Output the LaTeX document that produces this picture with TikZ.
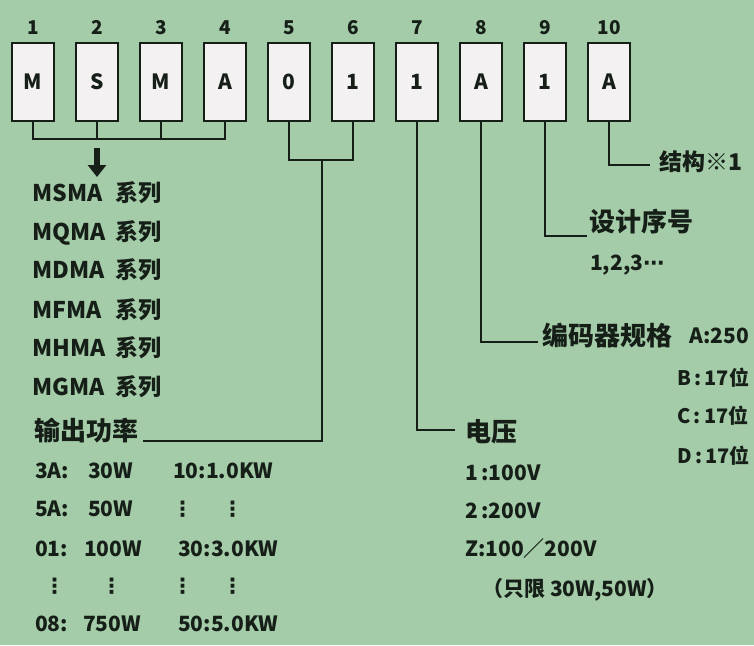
\documentclass[tikz,border=0pt]{standalone}
\usepackage{fontspec}
\setmainfont{Noto Sans CJK SC}
\newfontfamily\dejavu{DejaVu Sans}
\usetikzlibrary{arrows.meta}
\definecolor{bg}{RGB}{164,204,168}
\definecolor{boxfill}{RGB}{244,241,243}
\definecolor{ink}{RGB}{22,30,24}
\newcommand{\fs}[1]{\bfseries\fontsize{#1}{#1}\selectfont}
\begin{document}
\begin{tikzpicture}[x=1pt,y=-1pt,
  cell/.style={draw=ink, line width=2pt, fill=boxfill, minimum width=42pt, minimum height=78pt, inner sep=0pt, font=\fs{21}, text=ink},
  num/.style={font=\fs{19}, text=ink, inner sep=0pt},
  conn/.style={draw=ink, line width=2pt},
  txt/.style={inner sep=0pt, anchor=west, text=ink, font=\fs{21}, text height=0.75em, text depth=0pt},
  ser/.style={txt, font=\fs{23}},
  head/.style={txt, font=\fs{26}},
  label distance=7pt]
\useasboundingbox (0,0) rectangle (754,645);
\clip (0,0) rectangle (754,645);
\fill[bg] (0,0) rectangle (754,645);

% code boxes
\node[cell, label={[num]above:1}] (b1) at (33,82) {\raisebox{-4pt}{M}};
\node[cell, label={[num]above:2}] (b2) at (97,82) {\raisebox{-4pt}{S}};
\node[cell, label={[num]above:3}] (b3) at (161,82) {\raisebox{-4pt}{M}};
\node[cell, label={[num]above:4}] (b4) at (225,82) {\raisebox{-4pt}{A}};
\node[cell, label={[num]above:5}] (b5) at (289,82) {\raisebox{-4pt}{0}};
\node[cell, label={[num]above:6}] (b6) at (353,82) {\raisebox{-4pt}{1}};
\node[cell, label={[num]above:7}] (b7) at (417,82) {\raisebox{-4pt}{1}};
\node[cell, label={[num]above:8}] (b8) at (481,82) {\raisebox{-4pt}{A}};
\node[cell, label={[num]above:9}] (b9) at (545,82) {\raisebox{-4pt}{1}};
\node[cell, label={[num]above:10}] (b10) at (609,82) {\raisebox{-4pt}{A}};

% series
\coordinate (j) at (0,139);
\draw[conn] (b1.south) -- (b1.south |- j) -- (b4.south |- j) -- (b4.south);
\draw[conn] (b2.south) -- (b2.south |- j);
\draw[conn] (b3.south) -- (b3.south |- j);
\coordinate (a1) at (97,148);
\coordinate (a2) at (97,177);
\draw[draw=ink, line width=6pt, -{Triangle[width=18pt,length=12pt]}] (a1) -- (a2);

\node[ser] (s1) at (32,198) {\makebox[83pt][l]{MSMA}系列};
\node[ser] (s2) at (32,237) {\makebox[83pt][l]{MQMA}系列};
\node[ser] (s3) at (32,275) {\makebox[83pt][l]{MDMA}系列};
\node[ser] (s4) at (32,315) {\makebox[83pt][l]{MFMA}系列};
\node[ser] (s5) at (32,353) {\makebox[83pt][l]{MHMA}系列};
\node[ser] (s6) at (32,392) {\makebox[83pt][l]{MGMA}系列};

% output power
\coordinate (m56) at (322,160);
\coordinate (pwend) at (143,441);
\draw[conn] (b5.south) |- (m56) -| (b6.south);
\draw[conn] (m56) |- (pwend);
\node[head] (pw) at (34,437) {输出功率};
\node[txt] (p11) at (35,475) {3A:};
\node[txt] (p12) at (88,475) {30W};
\node[txt] (p13) at (173,475) {10:1.0KW};
\node[txt] (p21) at (35,513) {5A:};
\node[txt] (p22) at (88,513) {50W};
\node[txt] (p23) at (172,513) {\dejavu\bfseries ⋮};
\node[txt] (p24) at (222,513) {\dejavu\bfseries ⋮};
\node[txt] (p31) at (35,553) {01:};
\node[txt] (p32) at (84,553) {100W};
\node[txt] (p33) at (178,553) {30:3.0KW};
\node[txt] (p41) at (44,590) {\dejavu\bfseries ⋮};
\node[txt] (p42) at (101,590) {\dejavu\bfseries ⋮};
\node[txt] (p43) at (172,590) {\dejavu\bfseries ⋮};
\node[txt] (p44) at (222,590) {\dejavu\bfseries ⋮};
\node[txt] (p51) at (35,628) {08:};
\node[txt] (p52) at (83,628) {750W};
\node[txt] (p53) at (178,628) {50:5.0KW};

% voltage
\coordinate (e7) at (455,430);
\draw[conn] (b7.south) |- (e7);
\node[head] (vt) at (465,438) {电压};
\node[txt] (v1) at (465,477) {1\,:100V};
\node[txt] (v2) at (465,515) {2\,:200V};
\node[txt] (v3) at (465,553) {Z:100／200V};
\node[txt] (v4) at (482,593) {（只限 30W,50W）};

% encoder
\coordinate (e8) at (538,342);
\draw[conn] (b8.south) |- (e8);
\node[head] (en) at (542,342) {编码器规格};
\node[txt] (ea) at (689,340) {A:250};
\node[txt, font=\fs{20}] (eb) at (677,382) {B\,:\,17位};
\node[txt, font=\fs{20}] (ec) at (677,420) {C\,:\,17位};
\node[txt, font=\fs{20}] (ed) at (677,460) {D\,:\,17位};

% design
\coordinate (e9) at (587,236);
\draw[conn] (b9.south) |- (e9);
\node[head] (ds) at (589,228) {设计序号};
\node[txt] (dn) at (590,267) {1,2,3\dejavu\bfseries ⋯};

% structure
\coordinate (e10) at (650,165);
\draw[conn] (b10.south) |- (e10);
\node[txt, font=\fs{23}] (st) at (659,167) {结构※1};
\end{tikzpicture}
\end{document}
